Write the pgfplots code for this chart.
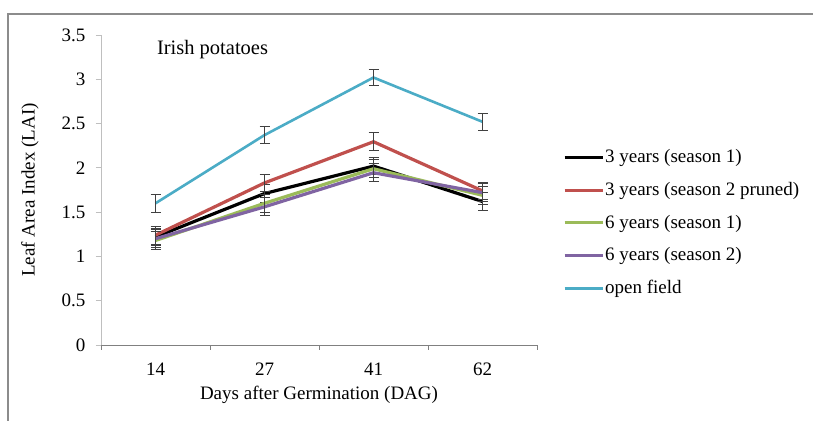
\documentclass[border=0pt]{standalone}
\usepackage{fontspec}
\setmainfont{Liberation Serif}
\usepackage{pgfplots}
\pgfplotsset{compat=1.18}
\definecolor{cred}{HTML}{C0504D}
\definecolor{cgreen}{HTML}{9BBB59}
\definecolor{cpurple}{HTML}{8064A2}
\definecolor{cblue}{HTML}{4BACC6}
\definecolor{ebar}{HTML}{404040}
\begin{document}
\fontsize{19bp}{22bp}\selectfont
\begin{tikzpicture}
\useasboundingbox (0,0) rectangle (813bp,421bp);
\fill[white] (0,0) rectangle (813bp,421bp);
\draw[color=gray!90, line width=2bp] (8bp,0) -- (8bp,407bp) -- (813bp,407bp);
\begin{axis}[
  at={(101bp,76bp)}, anchor=south west,
  scale only axis, width=436bp, height=310bp,
  xmin=-0.5, xmax=3.5, ymin=0, ymax=3.5,
  axis x line*=bottom, axis y line*=left,
  axis line style={-},
  x axis line style={draw=gray, line width=1bp},
  y axis line style={draw=lightgray, line width=1bp},
  xtick={0,1,2,3}, xticklabels={14,27,41,62},
  minor xtick={-0.5,0.5,1.5,2.5,3.5},
  ytick={0,0.5,1,1.5,2,2.5,3,3.5},
  tick align=outside,
  major tick length=5bp, minor tick length=5bp,
  major x tick style={draw=none},
  minor x tick style={draw=gray, line width=1bp},
  major y tick style={draw=lightgray, line width=1bp},
  /pgf/number format/assume math mode=true,
  ticklabel style={font=\fontsize{19bp}{22bp}\selectfont},
  xticklabel style={yshift=-6bp},
  yticklabel style={xshift=-4bp},
  xlabel={Days after Germination (DAG)},
  ylabel={Leaf Area Index (LAI)},
  label style={font=\fontsize{19bp}{22bp}\selectfont},
  xlabel style={at={(axis description cs:0.5,-0.161)}, anchor=center},
  ylabel style={at={(axis description cs:-0.163,0.5)}, anchor=center},
  legend style={draw=none, fill=none, at={(axis description cs:1.0525,0.64)}, anchor=north west,
    font=\fontsize{19bp}{22bp}\selectfont, row sep=14.5bp,
    nodes={inner sep=1bp}},
  legend cell align=left,
  /tikz/every odd column/.style={column sep=0pt},
  legend image code/.code={\draw[#1, line width=3bp] (0bp,0bp) -- (38bp,0bp);},
  error bars/y dir=both, error bars/y explicit,
  error bars/error bar style={color=ebar, line width=1bp},
  error bars/error mark options={rotate=90, mark size=5bp, line width=1bp, color=ebar},
  clip=false,
]
\addplot[black, line width=3.2bp, no markers] coordinates {
  (0,1.22) +- (0,0.1)
  (1,1.71) +- (0,0.1)
  (2,2.02) +- (0,0.1)
  (3,1.62) +- (0,0.1)
};
\addlegendentry{3 years (season 1)}
\addplot[cred, line width=3.2bp, no markers] coordinates {
  (0,1.24) +- (0,0.1)
  (1,1.83) +- (0,0.1)
  (2,2.295) +- (0,0.1)
  (3,1.74) +- (0,0.1)
};
\addlegendentry{3 years (season 2 pruned)}
\addplot[cgreen, line width=3.2bp, no markers] coordinates {
  (0,1.18) +- (0,0.1)
  (1,1.60) +- (0,0.1)
  (2,1.99) +- (0,0.1)
  (3,1.69) +- (0,0.1)
};
\addlegendentry{6 years (season 1)}
\addplot[cpurple, line width=3.2bp, no markers] coordinates {
  (0,1.20) +- (0,0.1)
  (1,1.56) +- (0,0.1)
  (2,1.945) +- (0,0.1)
  (3,1.72) +- (0,0.1)
};
\addlegendentry{6 years (season 2)}
\addplot[cblue, line width=2.6bp, no markers] coordinates {
  (0,1.60) +- (0,0.1)
  (1,2.37) +- (0,0.1)
  (2,3.02) +- (0,0.095)
  (3,2.52) +- (0,0.095)
};
\addlegendentry{open field}
\node[anchor=west, inner sep=0pt, font=\fontsize{20.5bp}{24bp}\selectfont] at (axis description cs:0.128,0.952) {Irish potatoes};
\end{axis}
\end{tikzpicture}
\end{document}
